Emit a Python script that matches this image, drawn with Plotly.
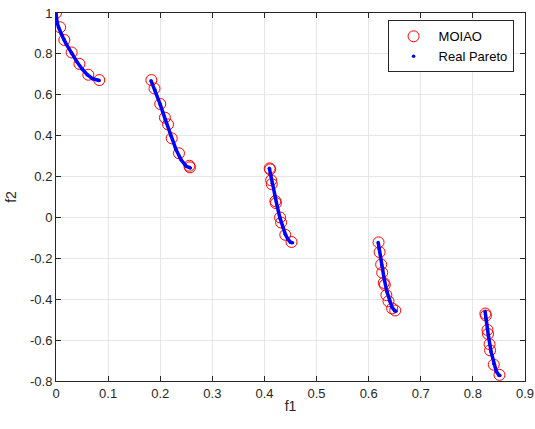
import plotly.graph_objects as go

# MOIAO solutions
moiao_f1 = [0.000, 0.008, 0.016, 0.030, 0.045, 0.062, 0.083,
            0.183, 0.189, 0.200, 0.209, 0.215, 0.222, 0.236, 0.256, 0.257,
            0.410, 0.411, 0.413, 0.414, 0.421, 0.422, 0.430, 0.432, 0.440, 0.452,
            0.619, 0.621, 0.624, 0.626, 0.629, 0.631, 0.634, 0.638, 0.645, 0.651,
            0.824, 0.825, 0.828, 0.829, 0.832, 0.833, 0.840, 0.851]
moiao_f2 = [1.000, 0.930, 0.868, 0.807, 0.751, 0.698, 0.672,
            0.672, 0.631, 0.555, 0.488, 0.455, 0.387, 0.314, 0.253, 0.245,
            0.240, 0.235, 0.182, 0.163, 0.080, 0.070, 0.000, -0.025, -0.085, -0.120,
            -0.122, -0.170, -0.230, -0.270, -0.320, -0.330, -0.380, -0.410, -0.445, -0.455,
            -0.470, -0.480, -0.550, -0.570, -0.620, -0.650, -0.720, -0.770]

# Real Pareto front points, segments separated by None
pareto_f1 = [0.000, 0.002, 0.005, 0.010, 0.015, 0.020, 0.030, 0.040, 0.050, 0.060, 0.070, 0.083, None,
             0.1823, 0.190, 0.200, 0.210, 0.220, 0.230, 0.240, 0.250, 0.2578, None,
             0.4094, 0.412, 0.415, 0.420, 0.425, 0.430, 0.435, 0.440, 0.445, 0.450, 0.4539, None,
             0.6183, 0.620, 0.625, 0.630, 0.635, 0.640, 0.645, 0.650, 0.6525, None,
             0.8234, 0.825, 0.830, 0.835, 0.840, 0.845, 0.850, 0.8518]
pareto_f2 = [1.000, 0.955, 0.929, 0.897, 0.871, 0.847, 0.803, 0.762, 0.726, 0.698, 0.679, 0.670, None,
             0.669, 0.623, 0.553, 0.477, 0.402, 0.334, 0.282, 0.250, 0.242, None,
             0.2407, 0.2064, 0.1671, 0.1049, 0.0476, -0.0036, -0.0471, -0.0817, -0.1068, -0.1208, -0.1242, None,
             -0.1224, -0.1518, -0.2325, -0.3034, -0.3627, -0.4087, -0.4402, -0.4562, -0.4583, None,
             -0.4596, -0.4917, -0.5825, -0.6578, -0.7154, -0.7538, -0.7720, -0.7733]

x_ticks = [0, 0.1, 0.2, 0.3, 0.4, 0.5, 0.6, 0.7, 0.8, 0.9]
x_labels = ["0", "0.1", "0.2", "0.3", "0.4", "0.5", "0.6", "0.7", "0.8", "0.9"]
y_ticks = [-0.8, -0.6, -0.4, -0.2, 0, 0.2, 0.4, 0.6, 0.8, 1]
y_labels = ["-0.8", "-0.6", "-0.4", "-0.2", "0", "0.2", "0.4", "0.6", "0.8", "1"]

FONT = "Arial, Liberation Sans, sans-serif"

fig = go.Figure()
fig.add_trace(go.Scatter(x=moiao_f1, y=moiao_f2, mode="markers", name="MOIAO",
                         marker=dict(symbol="circle-open", size=11, color="red",
                                     line=dict(width=1, color="red"))))
fig.add_trace(go.Scatter(x=pareto_f1, y=pareto_f2, mode="lines", showlegend=False,
                         connectgaps=False, line=dict(color="blue", width=3.5),
                         hoverinfo="skip"))
fig.add_trace(go.Scatter(x=[v for v in pareto_f1 if v is not None],
                         y=[v for v in pareto_f2 if v is not None],
                         mode="markers", name="Real Pareto",
                         marker=dict(size=3.5, color="blue")))

axis_common = dict(showline=True, linecolor="#262626", linewidth=1, mirror="ticks",
                   ticks="inside", ticklen=5, tickcolor="#262626", automargin=False,
                   showgrid=True, gridcolor="#e6e6e6", gridwidth=1, zeroline=False,
                   tickfont=dict(family=FONT, size=13, color="#262626"),
                   title_font=dict(family=FONT, size=14, color="#262626"))

fig.update_xaxes(range=[0, 0.90001], tickvals=x_ticks, ticktext=x_labels,
                 title_text="f1", title_standoff=1, **axis_common)
fig.update_yaxes(range=[-0.8, 1.0], tickvals=y_ticks, ticktext=y_labels,
                 title_text="f2", title_standoff=10, **axis_common)

fig.update_layout(width=535, height=429, plot_bgcolor="white", paper_bgcolor="white",
                  margin=dict(l=56, r=10, t=13, b=48),
                  font=dict(family=FONT, size=13, color="#262626"),
                  legend=dict(x=0.707, y=0.98, xanchor="left", yanchor="top",
                              bgcolor="white", bordercolor="#262626", borderwidth=1,
                              font=dict(family=FONT, size=13, color="black"), tracegroupgap=0,
                              itemwidth=40),
                  showlegend=True)

fig.write_html("out.html", config={"displayModeBar": False},
               post_script="document.body.style.margin='0';")
